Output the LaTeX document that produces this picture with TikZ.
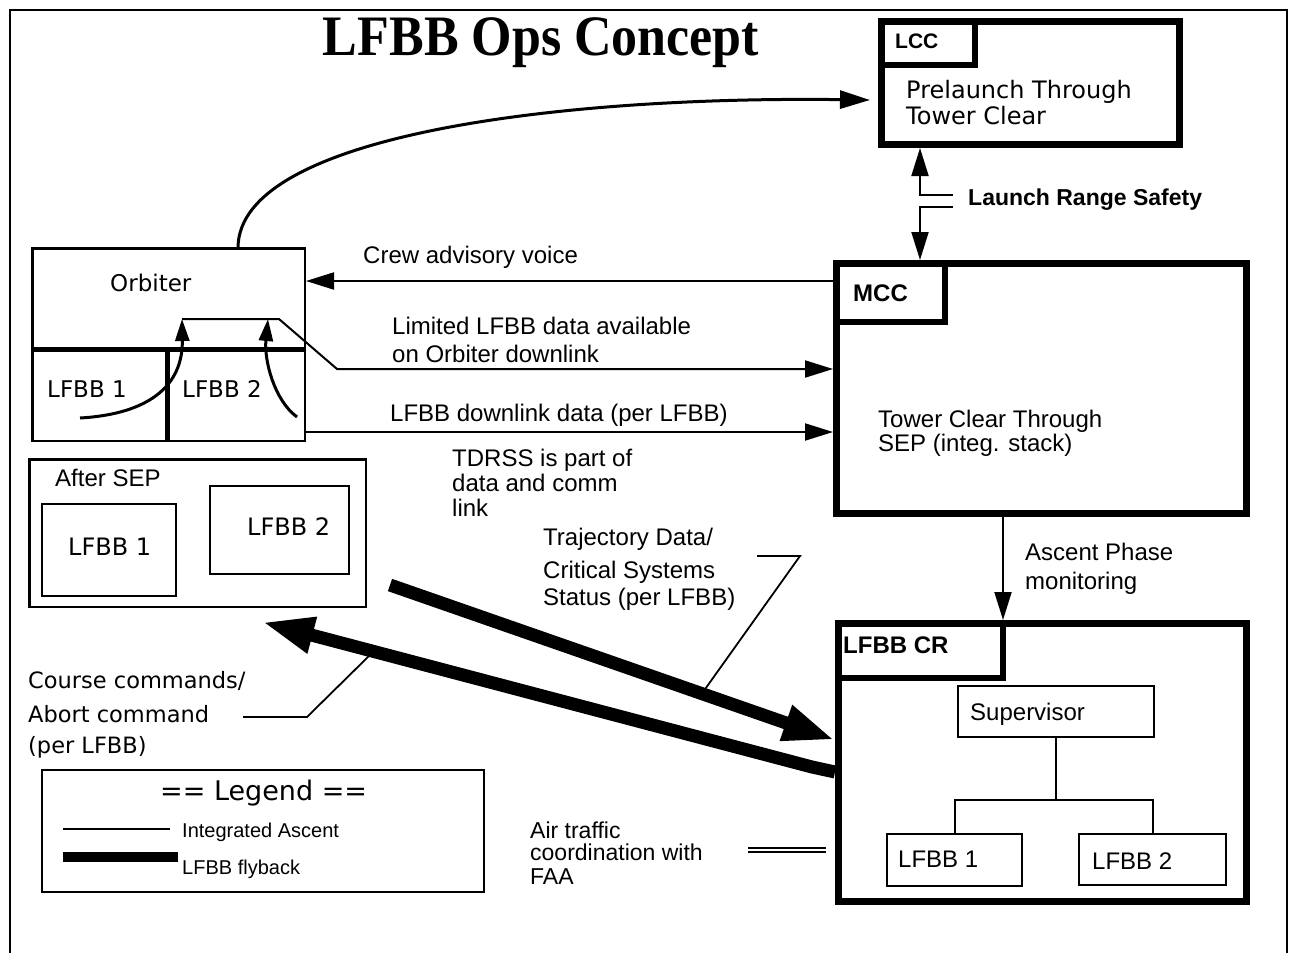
\documentclass[tikz,border=0pt]{standalone}
\usepackage{fontspec}
\setmainfont{Liberation Sans}
\newfontfamily\hv{Liberation Sans}
\newfontfamily\gv{DejaVu Sans}
\newfontfamily\tm{Liberation Serif}
\usetikzlibrary{arrows.meta,calc}

\begin{document}
\begin{tikzpicture}[x=1pt,y=-1pt,
  boxthin/.style={draw,line width=2.5pt,inner sep=0pt,anchor=north west},
  boxsub/.style={draw,line width=2pt,inner sep=0pt,anchor=north west},
  boxthick/.style={draw,line width=7pt,inner sep=0pt,anchor=north west},
  boxlabel/.style={draw,line width=6pt,inner sep=0pt,anchor=north west},
  hvt/.style={inner sep=0pt,anchor=base west,font=\hv\fontsize{24}{28}\selectfont},
  hvs/.style={inner sep=0pt,anchor=base west,font=\hv\fontsize{20}{24}\selectfont},
  hvb/.style={inner sep=0pt,anchor=base west,font=\hv\bfseries\fontsize{23}{28}\selectfont},
  gvt/.style={inner sep=0pt,anchor=base west,font=\gv\fontsize{23}{28}\selectfont},
  arr/.style={line width=2pt,-{Triangle[length=28pt,width=17pt]}},
  curvearr/.style={line width=3pt,-{Triangle[length=22pt,width=14pt]}},
  flyback/.style={line width=13pt,-{Triangle[length=52pt,width=34pt]}},
  leader/.style={line width=1.8pt}
]
\useasboundingbox (0,0) rectangle (1290,953);
\fill[white] (0,0) rectangle (1290,953);

% page frame (open at the bottom)
\draw[line width=2.5pt] (10,953) -- (10,10) -- (1287,10) -- (1287,953);

% title
\node[inner sep=0pt,anchor=base,font=\tm\bfseries\fontsize{52}{56}\selectfont,yscale=1.1] (title) at (541,55) {LFBB Ops Concept};

% ---------- control centres ----------
\node[boxthick,minimum width=298pt,minimum height=123pt] (lcc) at (878,18) {};
\node[boxlabel,minimum width=94pt,minimum height=44pt] (lccl) at (878,18) {};
\node[hvb,font=\hv\bfseries\fontsize{21}{24}\selectfont] (tLCC) at (895,48) {LCC};
\node[gvt,font=\gv\fontsize{24}{28}\selectfont] (tPre1) at (906,98) {Prelaunch Through};
\node[gvt,font=\gv\fontsize{24}{28}\selectfont] (tPre2) at (906,124) {Tower Clear};

\node[boxthick,minimum width=410pt,minimum height=250pt] (mcc) at (833,260) {};
\node[boxlabel,minimum width=109pt,minimum height=59pt] (mccl) at (833,260) {};
\node[hvb,font=\hv\bfseries\fontsize{24}{28}\selectfont] (tMCC) at (853,301) {MCC};
\node[hvt] (tTow1) at (878,427) {Tower Clear Through};
\node[hvt] (tTow2) at (878,451) {SEP (integ. stack)};

\node[boxthick,minimum width=408pt,minimum height=278pt] (cr) at (835,620) {};
\node[boxlabel,minimum width=165pt,minimum height=55pt] (crl) at (835,620) {};
\node[hvb,font=\hv\bfseries\fontsize{24}{28}\selectfont] (tCR) at (843,653) {LFBB CR};
\node[boxsub,minimum width=196pt,minimum height=51pt] (sup) at (957,685) {};
\node[hvt] (tSup) at (970,720) {Supervisor};
\node[boxsub,minimum width=135pt,minimum height=52pt] (cr1) at (886,833) {};
\node[hvt] (tCr1) at (898,867) {LFBB 1};
\node[boxsub,minimum width=147pt,minimum height=51pt] (cr2) at (1078,833) {};
\node[hvt] (tCr2) at (1092,869) {LFBB 2};

% supervisor tree
\coordinate (tj) at (1056,800);
\draw[line width=2pt] (sup.south) -- (sup.south |- tj);
\draw[line width=2pt] (cr1.north) |- (sup.south |- tj) -| (cr2.north);

% ---------- vehicle ----------
\node[boxthin,minimum width=272.5pt,minimum height=192.5pt] (orb) at (31,247) {};
\node[gvt] (tOrb) at (110,291) {Orbiter};
\coordinate (oy) at (0,349);
\coordinate (ov) at (167,0);
\draw[line width=5pt] (orb.west |- oy) -- (orb.east |- oy);
\draw[line width=5pt] (ov |- oy) -- (ov |- orb.south);
\node[gvt] (tOb1) at (47,397) {LFBB 1};
\node[gvt] (tOb2) at (182,397) {LFBB 2};

\node[boxthin,minimum width=336.5pt,minimum height=147.5pt] (sep) at (28,458) {};
\node[hvt] (tSep) at (55,486) {After SEP};
\node[boxsub,minimum width=134pt,minimum height=92pt] (sep1) at (41,503) {};
\node[gvt,font=\gv\fontsize{24}{28}\selectfont] (tSp1) at (68,555) {LFBB 1};
\node[boxsub,minimum width=139pt,minimum height=88pt] (sep2) at (209,485) {};
\node[gvt,font=\gv\fontsize{24}{28}\selectfont] (tSp2) at (247,535) {LFBB 2};

% ---------- legend ----------
\node[boxsub,minimum width=442pt,minimum height=122pt] (leg) at (41,769) {};
\node[gvt,font=\gv\fontsize{27}{30}\selectfont] (tLeg) at (160,800) {== Legend ==};
\coordinate (lg1a) at (63,829);
\coordinate (lg1b) at (170,829);
\coordinate (lg2a) at (63,857);
\coordinate (lg2b) at (178,857);
\draw[line width=2pt] (lg1a) -- (lg1b);
\draw[line width=10pt] (lg2a) -- (lg2b);
\node[hvs] (tIA) at (182,837) {Integrated Ascent};
\node[hvs] (tFB) at (182,874) {LFBB flyback};

% ---------- integrated ascent links ----------
\coordinate (lccin) at (870,100);
\coordinate (orbout) at (238,247);
\draw[line width=3pt,-{Triangle[length=30pt,width=18pt]}] (orbout) .. controls (240,135) and (560,96) .. (lccin);

\coordinate (xL) at (920,0);
\coordinate (rs1) at (953,195);
\coordinate (rs2) at (953,207);
\draw[arr] (rs1) -- (rs1 -| xL) -- (lcc.south -| xL);
\draw[arr] (rs2) -- (rs2 -| xL) -- (mcc.north -| xL);
\node[hvb] (tLRS) at (968,205) {Launch Range Safety};

\coordinate (yCrew) at (0,281);
\draw[arr] (mcc.west |- yCrew) -- (orb.east |- yCrew);
\node[hvt] (tCrew) at (363,263) {Crew advisory voice};

\coordinate (dl1) at (182,319);
\coordinate (dl2) at (279,319);
\coordinate (dl3) at (337,369);
\draw[arr] (dl1) -- (dl2) -- (dl3) -- (mcc.west |- dl3);
\node[hvt] (tLim1) at (392,334) {Limited LFBB data available};
\node[hvt] (tLim2) at (392,362) {on Orbiter downlink};

\coordinate (c1s) at (80,418);
\draw[curvearr] (c1s) .. controls (150,414) and (183,385) .. (dl1);
\coordinate (c2s) at (297,417);
\coordinate (c2e) at (268,319);
\draw[curvearr] (c2s) .. controls (274,400) and (264,360) .. (c2e);

\coordinate (yDown) at (0,432);
\draw[arr] (orb.east |- yDown) -- (mcc.west |- yDown);
\node[hvt] (tDown) at (390,421) {LFBB downlink data (per LFBB)};

\node[hvt] (tTd1) at (452,466) {TDRSS is part of};
\node[hvt] (tTd2) at (452,491) {data and comm};
\node[hvt] (tTd3) at (452,516) {link};

\coordinate (xM) at (1003,0);
\draw[arr] (mcc.south -| xM) -- (cr.north -| xM);
\node[hvt] (tAsc1) at (1025,560) {Ascent Phase};
\node[hvt] (tAsc2) at (1025,589) {monitoring};

% ---------- flyback links ----------
\coordinate (tr1) at (757,556);
\coordinate (tr2) at (800,556);
\coordinate (tr3) at (703,692);
\draw[leader] (tr1) -- (tr2) -- (tr3);
\node[hvt] (tTr1) at (543,545) {Trajectory Data/};
\node[hvt] (tTr2) at (543,578) {Critical Systems};
\node[hvt] (tTr3) at (543,605) {Status (per LFBB)};

\coordinate (cc1) at (243,717);
\coordinate (cc2) at (307,717);
\coordinate (cc3) at (372,653);
\draw[leader] (cc1) -- (cc2) -- (cc3);
\node[gvt,font=\gv\fontsize{22.5}{26}\selectfont] (tCc1) at (28,688) {Course commands/};
\node[gvt,font=\gv\fontsize{22.5}{26}\selectfont] (tCc2) at (28,722) {Abort command};
\node[gvt,font=\gv\fontsize{22.5}{26}\selectfont] (tCc3) at (28,753) {(per LFBB)};

\coordinate (fbs) at (390,585);
\coordinate (yFb1) at (0,740);
\draw[flyback] (fbs) -- (cr.west |- yFb1);
\coordinate (yFb2) at (0,772);
\coordinate (fbk) at (812,767);
\coordinate (fbt) at (262,622);
\draw[flyback] (cr.west |- yFb2) -- (fbk) -- (fbt);

% air traffic
\coordinate (at1) at (748,850);
\coordinate (at2) at (826,850);
\draw[line width=2.5pt,double,double distance=1.5pt] (at1) -- (at2);
\node[hvt,font=\hv\fontsize{23}{26}\selectfont] (tAt1) at (530,838) {Air traffic};
\node[hvt,font=\hv\fontsize{23}{26}\selectfont] (tAt2) at (530,860) {coordination with};
\node[hvt,font=\hv\fontsize{23}{26}\selectfont] (tAt3) at (530,884) {FAA};
\end{tikzpicture}
\end{document}
